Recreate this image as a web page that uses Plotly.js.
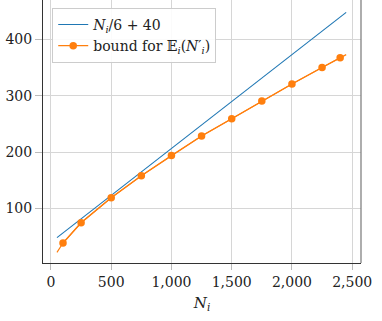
<!DOCTYPE html>
<html>
<head>
<meta charset="utf-8">
<script src="https://cdn.plot.ly/plotly-3.0.1.min.js"></script>
<style>
  html, body { margin: 0; padding: 0; background: #fff; }
  #plot { width: 382px; height: 321px; }
</style>
</head>
<body>
<div id="plot"></div>
<script>
// N_i / 6 + 40 reference line
const lineX = [50, 2450];
const lineY = [48, 448];

// bound for E_i(N_i'), the curve runs past the first and last marker
const boundX = [50, 100, 250, 500, 750, 1000, 1250, 1500, 1750, 2000, 2250, 2400, 2450];
const boundY = [22, 38.5, 74.5, 119, 158, 194, 228.5, 259, 290.5, 321, 350, 367.5, 373];

const xTicks = [0, 500, 1000, 1500, 2000, 2500];
const yTicks = [100, 200, 300, 400];

const blue = '#1f77b4';
const orange = '#ff7f0e';
const font = 'DejaVu Serif, serif';

const traces = [
    {
        x: lineX,
        y: lineY,
        mode: 'lines',
        name: '<i>N<sub>i</sub></i>/6 + 40',
        line: { color: blue, width: 1.1 },
    },
    {
        // full orange curve, no markers at the ends
        x: boundX,
        y: boundY,
        mode: 'lines',
        line: { color: orange, width: 1.2 },
        showlegend: false,
        hoverinfo: 'skip',
    },
    {
        x: boundX.slice(1, -1),
        y: boundY.slice(1, -1),
        mode: 'lines+markers',
        name: 'bound for 𝔼<sub><i>i</i></sub>(<i>N</i>′<sub><i>i</i></sub>)',
        line: { color: orange, width: 1.2 },
        marker: { color: orange, size: 7.5 },
    },
];

const layout = {
    width: 382,
    height: 321,
    margin: { l: 43, r: 21, t: 0, b: 58 },
    paper_bgcolor: '#fff',
    plot_bgcolor: '#fff',
    font: { family: font, size: 14, color: '#222' },
    showlegend: true,
    legend: {
        x: 0.029,
        y: 0.97,
        xanchor: 'left',
        yanchor: 'top',
        bgcolor: 'rgba(255,255,255,0.9)',
        bordercolor: '#cccccc',
        borderwidth: 1,
        font: { family: font, size: 14, color: '#222' },
        tracegroupgap: 0,
    },
    xaxis: {
        range: [-66, 2573],
        tickvals: xTicks,
        tickformat: ',d',
        tickfont: { family: font, size: 14 },
        showgrid: true,
        gridcolor: '#d6d6d6',
        gridwidth: 1,
        zeroline: false,
        showline: true,
        linecolor: '#333',
        linewidth: 1,
        ticks: 'outside',
        ticklen: 6,
        tickcolor: '#bbb',
        title: { text: '<i>N<sub>i</sub></i>', font: { family: font, size: 15 }, standoff: 8 },
    },
    yaxis: {
        range: [3, 470],
        tickvals: yTicks,
        tickfont: { family: font, size: 14 },
        showgrid: true,
        gridcolor: '#d6d6d6',
        gridwidth: 1,
        zeroline: false,
        showline: true,
        linecolor: '#333',
        linewidth: 1,
        ticks: 'outside',
        ticklen: 7,
        tickcolor: '#bbb',
    },
    shapes: [
        {
            type: 'line',
            xref: 'paper',
            yref: 'paper',
            x0: 1, x1: 1,
            y0: 0, y1: 1,
            line: { color: '#777', width: 1.2 },
        },
    ],
};

Plotly.newPlot('plot', traces, layout, { staticPlot: true, displayModeBar: false });
</script>
</body>
</html>
